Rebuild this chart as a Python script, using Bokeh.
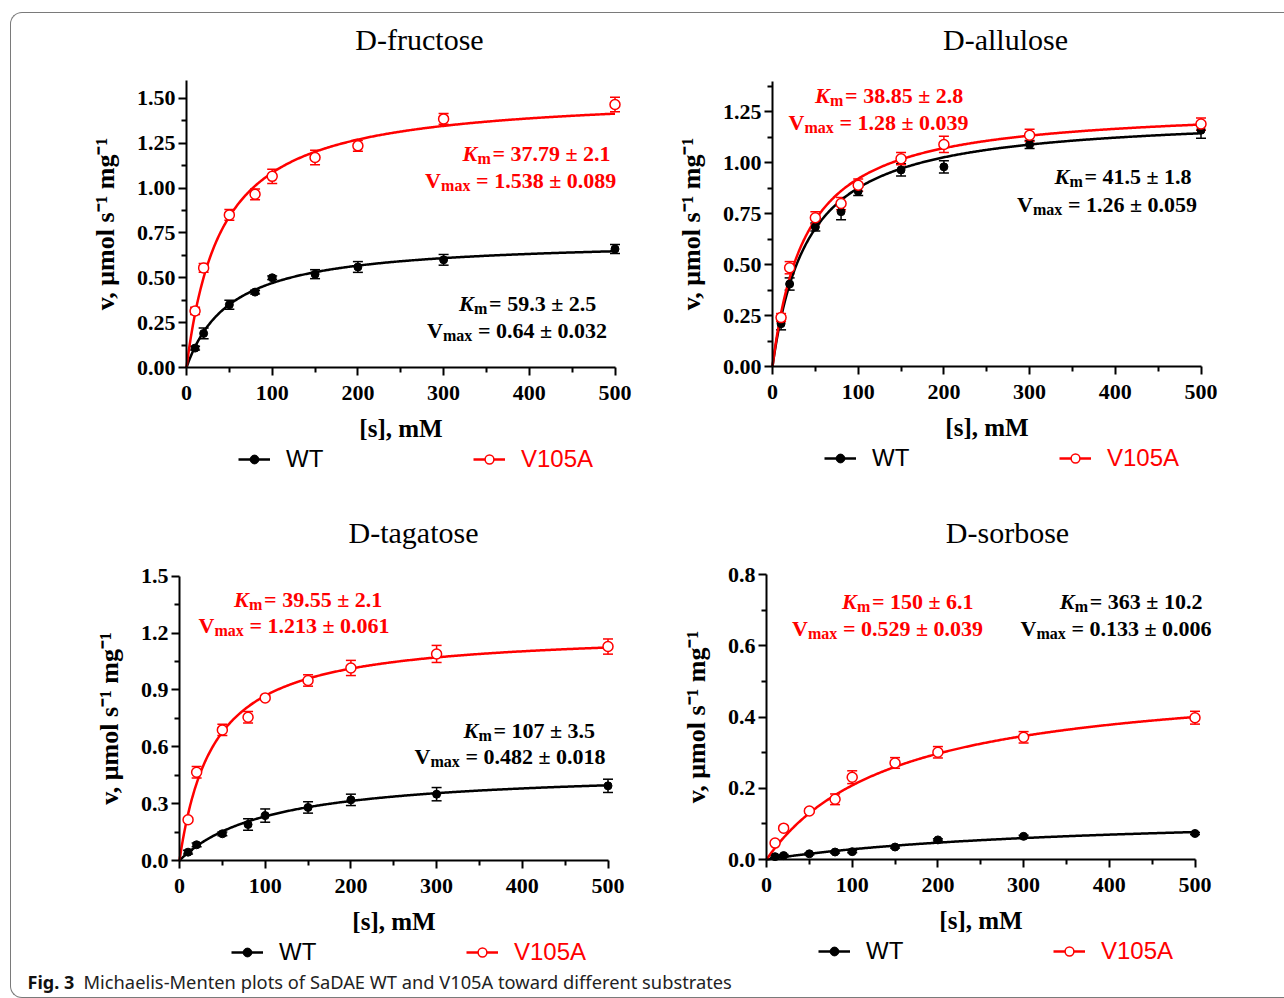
import numpy as np
from bokeh.plotting import figure
from bokeh.models import (Range1d, FixedTicker, PrintfTickFormatter, ColumnDataSource,
                          Whisker, TeeHead, Label, Legend, LegendItem)
from bokeh.layouts import column, row
from bokeh.embed import file_html
from bokeh.resources import INLINE

# ------------------------------------------------------------------ data
substrate_mM = [10, 20, 50, 80, 100, 150, 200, 300, 500]
substrates = ["D-fructose", "D-allulose", "D-tagatose", "D-sorbose"]

fructose_wt = [0.108, 0.19, 0.35, 0.42, 0.50, 0.52, 0.56, 0.60, 0.66]
fructose_wt_err = [0.01, 0.03, 0.025, 0.01, 0.01, 0.025, 0.03, 0.03, 0.025]
fructose_v105a = [0.315, 0.555, 0.85, 0.965, 1.065, 1.17, 1.235, 1.385, 1.465]
fructose_v105a_err = [0.02, 0.025, 0.03, 0.03, 0.04, 0.04, 0.03, 0.03, 0.04]

allulose_wt = [0.21, 0.405, 0.685, 0.76, 0.86, 0.965, 0.98, 1.09, 1.16]
allulose_wt_err = [0.03, 0.03, 0.02, 0.04, 0.02, 0.03, 0.03, 0.02, 0.04]
allulose_v105a = [0.24, 0.485, 0.73, 0.80, 0.89, 1.02, 1.09, 1.135, 1.19]
allulose_v105a_err = [0.02, 0.03, 0.03, 0.03, 0.03, 0.03, 0.04, 0.03, 0.03]

tagatose_wt = [0.044, 0.083, 0.141, 0.19, 0.237, 0.28, 0.32, 0.35, 0.394]
tagatose_wt_err = [0.01, 0.01, 0.01, 0.03, 0.035, 0.03, 0.03, 0.035, 0.035]
tagatose_v105a = [0.215, 0.466, 0.689, 0.756, 0.858, 0.95, 1.016, 1.09, 1.129]
tagatose_v105a_err = [0.01, 0.03, 0.03, 0.03, 0.01, 0.03, 0.04, 0.045, 0.04]

sorbose_wt = [0.008, 0.011, 0.016, 0.021, 0.022, 0.035, 0.055, 0.065, 0.073]
sorbose_wt_err = [0.003, 0.003, 0.003, 0.003, 0.003, 0.003, 0.003, 0.003, 0.003]
sorbose_v105a = [0.046, 0.088, 0.136, 0.169, 0.231, 0.271, 0.301, 0.343, 0.398]
sorbose_v105a_err = [0.005, 0.005, 0.005, 0.015, 0.018, 0.015, 0.016, 0.016, 0.018]

# Michaelis-Menten fitted curves (Km, Vmax as drawn)
fit_km_wt = [52.0, 41.5, 107.0, 363.0]
fit_vmax_wt = [0.715, 1.24, 0.482, 0.133]
fit_km_v105a = [41.0, 38.85, 39.55, 150.0]
fit_vmax_v105a = [1.53, 1.28, 1.213, 0.52]

# printed kinetic parameters
km_text_wt = ["59.3 ± 2.5", "41.5 ± 1.8", "107 ± 3.5", "363 ± 10.2"]
vmax_text_wt = ["0.64 ± 0.032", "1.26 ± 0.059", "0.482 ± 0.018", "0.133 ± 0.006"]
km_text_v105a = ["37.79 ± 2.1", "38.85 ± 2.8", "39.55 ± 2.1", "150 ± 6.1"]
vmax_text_v105a = ["1.538 ± 0.089", "1.28 ± 0.039", "1.213 ± 0.061", "0.529 ± 0.039"]

# axes
x_max = 500
x_ticks = [0, 100, 200, 300, 400, 500]
x_minor_ticks = [50, 150, 250, 350, 450]
y_top = [1.6, 1.4, 1.5, 0.8]
y_ticks = [[0, 0.25, 0.5, 0.75, 1.0, 1.25, 1.5],
           [0, 0.25, 0.5, 0.75, 1.0, 1.25],
           [0, 0.3, 0.6, 0.9, 1.2, 1.5],
           [0, 0.2, 0.4, 0.6, 0.8]]
y_minor_ticks = [[0.125, 0.375, 0.625, 0.875, 1.125, 1.375],
                 [0.125, 0.375, 0.625, 0.875, 1.125, 1.375],
                 [0.15, 0.45, 0.75, 1.05, 1.35],
                 [0.1, 0.3, 0.5, 0.7]]
y_formats = ["%.2f", "%.2f", "%.1f", "%.1f"]
x_label = "[s], mM"
y_label = "v, \u03bcmol s\u207b\u00b9 mg\u207b\u00b9"
legend_labels = ["WT", "V105A"]
caption_bold = "Fig. 3"
caption_text = "Michaelis-Menten plots of SaDAE WT and V105A toward different substrates"

series_wt = [fructose_wt, allulose_wt, tagatose_wt, sorbose_wt]
series_wt_err = [fructose_wt_err, allulose_wt_err, tagatose_wt_err, sorbose_wt_err]
series_mt = [fructose_v105a, allulose_v105a, tagatose_v105a, sorbose_v105a]
series_mt_err = [fructose_v105a_err, allulose_v105a_err, tagatose_v105a_err, sorbose_v105a_err]

# ------------------------------------------------------------------ layout (page pixels)
RED = "#ff0000"
BLACK = "#000000"
SERIF = "Liberation Serif"
PX_PER_MM = 0.857

fig_boxes = [(11, 13, 630, 480), (641, 13, 643, 480), (11, 493, 630, 475), (641, 493, 643, 475)]
axis_left = [186, 772, 179, 766]          # page x of s = 0
axis_bottom = [367, 366, 860, 859]        # page y of v = 0
px_per_unit = [179.5, 203.7, 189.5, 356.25]
title_pos = [(419, 39), (1005, 39), (413, 532), (1007, 532)]
ann_red = [((462, 152.5), (424.6, 179.5)), ((814.6, 94.7), (787.9, 122.3)),
           ((233.6, 599), (197.9, 624.7)), ((841.4, 601.3), (791.4, 628))]
ann_black = [((458.6, 303), (426.4, 329.5)), ((1053.9, 176.3), (1016.4, 203.7)),
             ((462.9, 729.7), (413.9, 756.3)), ((1059.3, 601.3), (1020, 628))]


def make_panel(i):
    fx, fy, fw, fh = fig_boxes[i]
    L, B = axis_left[i], axis_bottom[i]
    sx, sy = PX_PER_MM, px_per_unit[i]

    def to_data(px, py):
        return (px - L) / sx, (B - py) / sy

    p = figure(width=fw, height=fh,
               x_range=Range1d(-(L - fx) / sx, (fx + fw - L) / sx),
               y_range=Range1d(-(fy + fh - B) / sy, (B - fy) / sy),
               min_border=0, output_backend="svg", toolbar_location=None, tools="")
    p.outline_line_color = None
    p.xgrid.visible = False
    p.ygrid.visible = False
    p.background_fill_color = None
    p.border_fill_color = None

    p.xaxis.fixed_location = 0
    p.yaxis.fixed_location = 0
    p.xaxis.ticker = FixedTicker(ticks=x_ticks, minor_ticks=x_minor_ticks)
    p.xaxis.formatter = PrintfTickFormatter(format="%d")
    p.xaxis.bounds = (0, x_max)
    p.yaxis.ticker = FixedTicker(ticks=y_ticks[i], minor_ticks=y_minor_ticks[i])
    p.yaxis.formatter = PrintfTickFormatter(format=y_formats[i])
    p.yaxis.bounds = (0, y_top[i])
    p.xaxis.axis_label = x_label
    p.yaxis.axis_label = y_label
    for ax in (p.xaxis[0], p.yaxis[0]):
        ax.axis_line_width = 2
        ax.axis_line_color = BLACK
        ax.major_tick_line_width = 2
        ax.minor_tick_line_width = 2
        ax.major_tick_line_color = BLACK
        ax.minor_tick_line_color = BLACK
        ax.major_tick_out = 8
        ax.major_tick_in = 0
        ax.minor_tick_out = 5
        ax.minor_tick_in = 0
        ax.major_label_text_font = SERIF
        ax.major_label_text_font_style = "bold"
        ax.major_label_text_font_size = "22px"
        ax.major_label_text_color = BLACK
        ax.axis_label_text_font = SERIF
        ax.axis_label_text_font_style = "bold"
        ax.axis_label_text_color = BLACK
    p.xaxis.axis_label_text_font_size = "25px"
    p.yaxis.axis_label_text_font_size = "26px"
    p.xaxis.major_label_standoff = 10
    p.xaxis.axis_label_standoff = 12
    p.yaxis.major_label_standoff = 3
    p.yaxis.axis_label_standoff = 14

    s = np.linspace(0, x_max, 401)
    curve_wt = fit_vmax_wt[i] * s / (fit_km_wt[i] + s)
    curve_mt = fit_vmax_v105a[i] * s / (fit_km_v105a[i] + s)

    x = np.array(substrate_mM, dtype=float)
    ywt = np.array(series_wt[i]); ewt = np.array(series_wt_err[i])
    ymt = np.array(series_mt[i]); emt = np.array(series_mt_err[i])
    src_wt = ColumnDataSource(dict(x=x, y=ywt, upper=ywt + ewt, lower=ywt - ewt))
    src_mt = ColumnDataSource(dict(x=x, y=ymt, upper=ymt + emt, lower=ymt - emt))

    for src, col in ((src_wt, BLACK), (src_mt, RED)):
        w = Whisker(source=src, base="x", upper="upper", lower="lower",
                    line_color=col, line_width=1.5, level="underlay",
                    upper_head=TeeHead(size=10, line_color=col, line_width=1.5),
                    lower_head=TeeHead(size=10, line_color=col, line_width=1.5))
        p.add_layout(w)

    l_wt = p.line(s, curve_wt, line_color=BLACK, line_width=2.5)
    l_mt = p.line(s, curve_mt, line_color=RED, line_width=2.5)
    m_wt = p.scatter("x", "y", source=src_wt, marker="circle", size=8,
                     fill_color=BLACK, line_color=BLACK, line_width=1)
    m_mt = p.scatter("x", "y", source=src_mt, marker="circle", size=10,
                     fill_color="white", line_color=RED, line_width=1.5)

    # legends (one per series so each label keeps its own colour)
    vy = (fy + fh) - (B + 106)
    for lab, rends, col, dx in ((legend_labels[0], [l_wt, m_wt], BLACK, 52),
                                (legend_labels[1], [l_mt, m_mt], RED, 287)):
        lg = Legend(items=[LegendItem(label=lab, renderers=rends)],
                    location=(L + dx - fx, vy),
                    orientation="horizontal", padding=0, margin=0, spacing=0,
                    glyph_width=32, glyph_height=22, label_height=22, label_standoff=16,
                    label_text_font="Liberation Sans", label_text_font_size="24px",
                    label_text_color=col, border_line_color=None,
                    background_fill_alpha=0)
        p.add_layout(lg)

    # title
    tx, ty = to_data(*title_pos[i])
    p.add_layout(Label(x=tx, y=ty, text=substrates[i], text_align="center",
                       text_baseline="middle", text_font=SERIF,
                       text_font_size="30px", text_color=BLACK))

    # kinetic parameter annotations
    def param(px, py, col, head, sub, body, sub_dx, body_dx, italic):
        ax_, ay_ = to_data(px, py)
        common = dict(x=ax_, y=ay_, text_baseline="middle", text_align="left",
                      text_font=SERIF, text_color=col)
        p.add_layout(Label(text=head, text_font_size="22px",
                           text_font_style="bold italic" if italic else "bold", **common))
        p.add_layout(Label(text=sub, text_font_size="16px", text_font_style="bold",
                           x_offset=sub_dx, y_offset=-5, **common))
        p.add_layout(Label(text=body, text_font_size="22px", text_font_style="bold",
                           x_offset=body_dx, **common))

    for (kpos, vpos), col, kt, vt in ((ann_red[i], RED, km_text_v105a[i], vmax_text_v105a[i]),
                                      (ann_black[i], BLACK, km_text_wt[i], vmax_text_wt[i])):
        param(kpos[0], kpos[1], col, "K", "m", "= " + kt, 15, 30, True)
        param(vpos[0], vpos[1], col, "V", "max", "= " + vt, 16, 51, False)
    return p


panels = [make_panel(i) for i in range(4)]

cap = figure(width=1273, height=29, x_range=Range1d(0, 1273), y_range=Range1d(0, 29),
             x_axis_type=None, y_axis_type=None, min_border=0,
             output_backend="svg", toolbar_location=None, tools="")
cap.outline_line_color = None
cap.xgrid.visible = False
cap.ygrid.visible = False
cap.background_fill_color = None
cap.border_fill_color = None
cap.add_layout(Label(x=16, y=16, text=caption_bold, text_font="Noto Sans", text_font_style="bold",
                     text_font_size="18px", text_baseline="middle", text_color="#111111"))
cap.add_layout(Label(x=72, y=16, text=caption_text, text_font="Noto Sans",
                     text_font_size="18.3px", text_baseline="middle", text_color="#222222"))

layout = column(row(panels[0], panels[1]), row(panels[2], panels[3]), cap,
                styles={"margin-left": "10px", "margin-top": "12px",
                        "border-top": "1px solid #7a7a7a", "border-left": "1px solid #7a7a7a",
                        "border-bottom": "1px solid #7a7a7a",
                        "border-radius": "12px 0 0 12px"})

open("out.html", "w").write(file_html(layout, INLINE))
